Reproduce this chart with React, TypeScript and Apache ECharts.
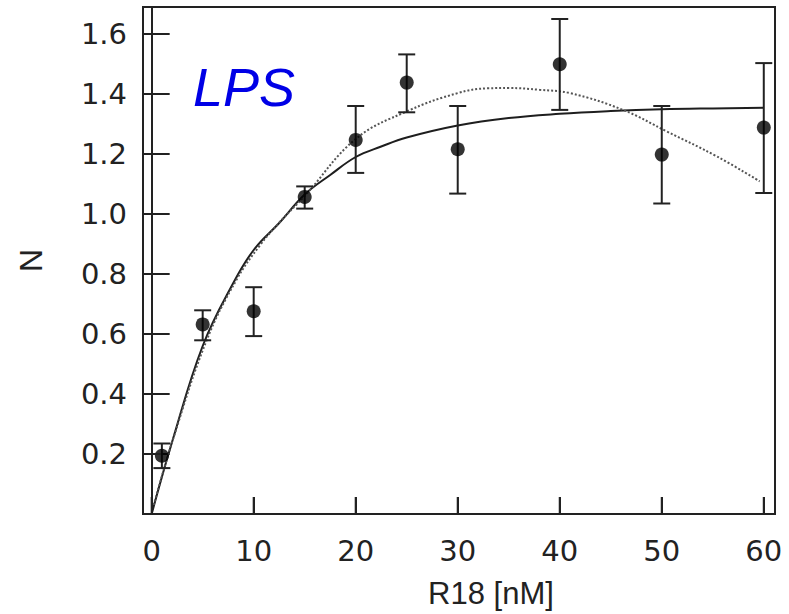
import React, { useEffect, useRef } from "react";
import * as echarts from "echarts";

const xTickValues = [0, 10, 20, 30, 40, 50, 60];
const yTickValues = [0.2, 0.4, 0.6, 0.8, 1.0, 1.2, 1.4, 1.6];

const r18 = [1, 5, 10, 15, 20, 25, 30, 40, 50, 60];
const nMean = [0.194, 0.632, 0.676, 1.057, 1.247, 1.438, 1.216, 1.499, 1.198, 1.288];
const nLow = [0.153, 0.579, 0.593, 1.018, 1.137, 1.339, 1.068, 1.347, 1.035, 1.07];
const nHigh = [0.235, 0.679, 0.756, 1.092, 1.36, 1.532, 1.36, 1.65, 1.36, 1.503];

const solidX = [0, 2, 5, 8, 10, 12.5, 15, 17.5, 20, 22.5, 25, 30, 35, 40, 45, 50, 55, 60];
const solidY = [0.0, 0.24, 0.56, 0.77, 0.88, 0.97, 1.065, 1.13, 1.19, 1.225, 1.255, 1.295, 1.32, 1.334, 1.343, 1.349, 1.352, 1.354];

const dottedX = [0.2, 2.1, 5.4, 8.3, 10.6, 12.6, 15, 20, 25, 30, 33, 35, 38, 41, 46.2, 50.5, 55.4, 59.6];
const dottedY = [0.03, 0.25, 0.58, 0.78, 0.895, 0.975, 1.06, 1.25, 1.342, 1.403, 1.419, 1.42, 1.414, 1.403, 1.347, 1.275, 1.192, 1.109];

const X_MIN = -0.85;
const X_MAX = 61.1;
const Y_MIN = 0;
const Y_MAX = 1.69;

const FONT = "'Liberation Sans', Arial, sans-serif";
const NUMFONT = "'DejaVu Sans', 'Liberation Sans', sans-serif";
const INK = "#222";

export default function App() {
  const ref = useRef<HTMLDivElement>(null);

  useEffect(() => {
    if (!ref.current) return;
    const chart = echarts.init(ref.current, null, { renderer: "svg" });
    const errData = r18.map((x, i) => [x, nLow[i], nHigh[i]]);
    const lpsText = {
      id: "lps",
      type: "text",
      left: 193,
      top: 60,
      z: 10,
      style: { text: "LPS", fill: "#0000e6", font: `italic 54px ${FONT}` },
    };
    chart.setOption({
      animation: false,
      backgroundColor: "#fff",
      grid: {
        left: 143,
        top: 7,
        right: 14,
        bottom: 97,
        show: true,
        backgroundColor: "transparent",
        borderColor: INK,
        borderWidth: 2,
      },
      xAxis: {
        type: "value",
        min: X_MIN,
        max: X_MAX,
        name: "R18 [nM]",
        nameLocation: "middle",
        nameGap: 64,
        nameTextStyle: { fontSize: 31, color: INK, fontFamily: FONT, padding: [0, 0, 0, 64] },
        axisLine: { show: true, onZero: false, lineStyle: { color: INK, width: 2 } },
        axisTick: { show: true, inside: true, length: 17, customValues: xTickValues, lineStyle: { color: INK, width: 2 } },
        axisLabel: { show: true, customValues: xTickValues, fontSize: 29, color: INK, fontFamily: NUMFONT, margin: 22, formatter: (v: number) => String(Math.round(v)) },
        splitLine: { show: false },
      },
      yAxis: {
        type: "value",
        min: Y_MIN,
        max: Y_MAX,
        name: "N",
        nameLocation: "middle",
        nameGap: 96,
        nameTextStyle: { fontSize: 32, color: INK, fontFamily: FONT },
        axisLine: { show: true, lineStyle: { color: INK, width: 2 } },
        axisTick: { show: true, inside: true, length: 18, customValues: yTickValues, lineStyle: { color: INK, width: 2 } },
        axisLabel: {
          show: true,
          customValues: yTickValues,
          fontSize: 29,
          color: INK,
          fontFamily: NUMFONT,
          margin: 16,
          formatter: (v: number) => v.toFixed(1),
        },
        splitLine: { show: false },
      },
      graphic: [lpsText],
      series: [
        {
          type: "line",
          name: "fit",
          data: solidX.map((x, i) => [x, solidY[i]]),
          smooth: 0.4,
          showSymbol: false,
          lineStyle: { color: "#1e1e1e", width: 2 },
          z: 7,
        },
        {
          type: "line",
          name: "fit2",
          data: dottedX.map((x, i) => [x, dottedY[i]]),
          smooth: 0.4,
          showSymbol: false,
          lineStyle: { color: "#555", width: 2, type: [2, 2] },
          z: 7,
        },
        {
          type: "custom",
          name: "error",
          data: errData,
          z: 8,
          renderItem: (params: any, api: any) => {
            const x = api.value(0);
            const lo = api.coord([x, api.value(1)]);
            const hi = api.coord([x, api.value(2)]);
            const hw = 8.5;
            const style = { stroke: INK, lineWidth: 2 };
            return {
              type: "group",
              children: [
                { type: "line", shape: { x1: lo[0], y1: lo[1], x2: hi[0], y2: hi[1] }, style },
                { type: "line", shape: { x1: lo[0] - hw, y1: lo[1], x2: lo[0] + hw, y2: lo[1] }, style },
                { type: "line", shape: { x1: hi[0] - hw, y1: hi[1], x2: hi[0] + hw, y2: hi[1] }, style },
              ],
            };
          },
        },
        {
          type: "scatter",
          name: "N",
          data: r18.map((x, i) => [x, nMean[i]]),
          symbol: "circle",
          symbolSize: 14,
          itemStyle: { color: "#000" },
          z: 9,
        },
      ],
    });

    // Tick marks placed through the chart's own scales
    const tickEls: any[] = [];
    yTickValues.forEach((v, i) => {
      const p = chart.convertToPixel({ gridIndex: 0 }, [X_MIN, v]) as number[];
      if (p && isFinite(p[0]) && isFinite(p[1])) {
        tickEls.push({
          id: "yt" + i,
          type: "line",
          z: 20,
          shape: { x1: p[0], y1: p[1], x2: p[0] + 18, y2: p[1] },
          style: { stroke: INK, lineWidth: 2 },
        });
      }
    });
    xTickValues.forEach((v, i) => {
      const p = chart.convertToPixel({ gridIndex: 0 }, [v, Y_MIN]) as number[];
      if (p && isFinite(p[0]) && isFinite(p[1])) {
        tickEls.push({
          id: "xt" + i,
          type: "line",
          z: 20,
          shape: { x1: p[0], y1: p[1], x2: p[0], y2: p[1] - 17 },
          style: { stroke: INK, lineWidth: 2 },
        });
      }
    });
    chart.setOption({ graphic: [lpsText, ...tickEls] });

    return () => chart.dispose();
  }, []);

  return (
    <div
      ref={ref}
      style={{ position: "absolute", left: 0, top: 0, width: 789, height: 614, background: "#fff" }}
    />
  );
}
